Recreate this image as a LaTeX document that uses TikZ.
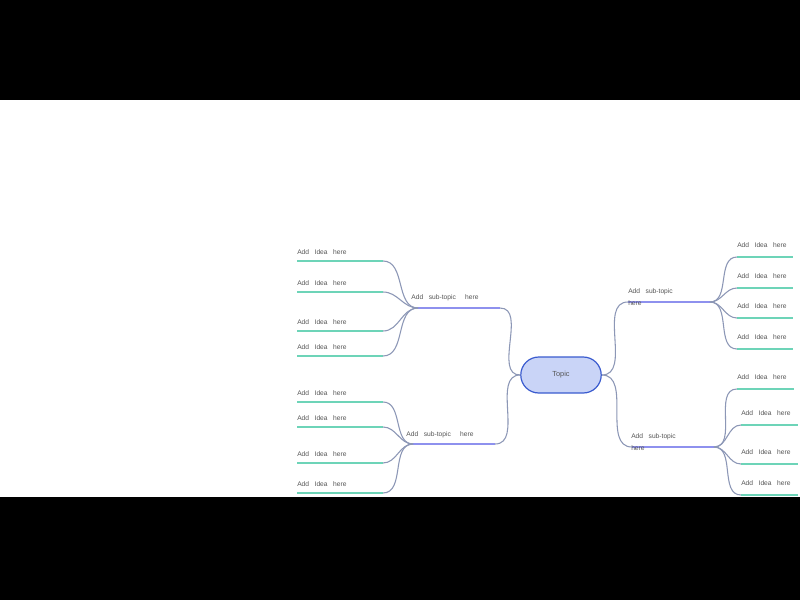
\documentclass[tikz,border=0pt]{standalone}
\usepackage{fontspec}
\setmainfont{Liberation Sans}
\usetikzlibrary{shapes.misc}
\definecolor{conn}{HTML}{8C97B6}
\definecolor{idea}{HTML}{6DD4B8}
\definecolor{subc}{HTML}{8E91EE}
\definecolor{txt}{HTML}{555555}
\definecolor{topf}{HTML}{C9D4F7}
\definecolor{topd}{HTML}{3A5BCF}
\begin{document}
\begin{tikzpicture}[x=0.75pt,y=-0.75pt,
  conn/.style={draw=conn,line width=0.8pt},
  ideal/.style={draw=idea,line width=2.2pt},
  subl/.style={draw=subc,line width=2.2pt},
  lab/.style={text=txt,font=\fontsize{5}{6}\selectfont,inner sep=0pt}]
\fill[black] (0,0) rectangle (800,600);
\fill[white] (0,100) rectangle (800,497);
\node[rounded rectangle,draw=topd,fill=topf,line width=0.9pt,minimum width=67pt,minimum height=27pt,font=\fontsize{5.5}{6}\selectfont,text=txt] (topic) at (561,375) {Topic};
% subtopics
\coordinate (s1a) at (418,308); \coordinate (s1b) at (500,308);
\coordinate (s2a) at (413,444); \coordinate (s2b) at (495,444);
\coordinate (s3a) at (628,302); \coordinate (s3b) at (710,302);
\coordinate (s4a) at (632,447); \coordinate (s4b) at (714,447);
\draw[subl] (s1a)--(s1b); \draw[subl] (s2a)--(s2b); \draw[subl] (s3a)--(s3b); \draw[subl] (s4a)--(s4b);
\node[lab] (t1) at (445,298) {Add\ \ \ sub-topic\ \ \ \ \ here};
\node[lab] (t2) at (440,435) {Add\ \ \ sub-topic\ \ \ \ \ here};
\node[lab,anchor=west] (t3) at (628,292) {Add\ \ \ sub-topic};
\node[lab,anchor=west] (t3b) at (628,303) {here};
\node[lab,anchor=west] (t4) at (631,437) {Add\ \ \ sub-topic};
\node[lab,anchor=west] (t4b) at (631,448) {here};
\draw[conn] (topic.west) to[out=180,in=0] (s1b);
\draw[conn] (topic.west) to[out=180,in=0] (s2b);
\draw[conn] (topic.east) to[out=0,in=180] (s3a);
\draw[conn] (topic.east) to[out=0,in=180] (s4a);
% left ideas
\foreach \i/\y in {1/261,2/292,3/331,4/356}{
  \coordinate (a\i) at (297,\y); \coordinate (b\i) at (383,\y);
  \draw[ideal] (a\i)--(b\i);
  \node[lab,anchor=west] (la\i) at (297,\y-9) {Add\ \ \ Idea\ \ \ here};
  \draw[conn] (s1a) to[out=180,in=0] (b\i);}
\foreach \i/\y in {5/402,6/427,7/463,8/493}{
  \coordinate (a\i) at (297,\y); \coordinate (b\i) at (383,\y);
  \draw[ideal] (a\i)--(b\i);
  \node[lab,anchor=west] (la\i) at (297,\y-9) {Add\ \ \ Idea\ \ \ here};
  \draw[conn] (s2a) to[out=180,in=0] (b\i);}
% right ideas
\foreach \i/\y/\x in {1/257/737,2/288/737,3/318/737,4/349/737}{
  \coordinate (c\i) at (\x,\y); \coordinate (d\i) at (\x+56,\y);
  \draw[ideal] (c\i)--(d\i);
  \node[lab,anchor=west] (lc\i) at (\x,\y-12) {Add\ \ \ Idea\ \ \ here};
  \draw[conn] (s3b) to[out=0,in=180] (c\i);}
\foreach \i/\y/\x in {5/389/737,6/425/741,7/464/741,8/495/741}{
  \coordinate (c\i) at (\x,\y); \coordinate (d\i) at (\x+57,\y);
  \draw[ideal] (c\i)--(d\i);
  \node[lab,anchor=west] (lc\i) at (\x,\y-12) {Add\ \ \ Idea\ \ \ here};
  \draw[conn] (s4b) to[out=0,in=180] (c\i);}
\end{tikzpicture}
\end{document}
